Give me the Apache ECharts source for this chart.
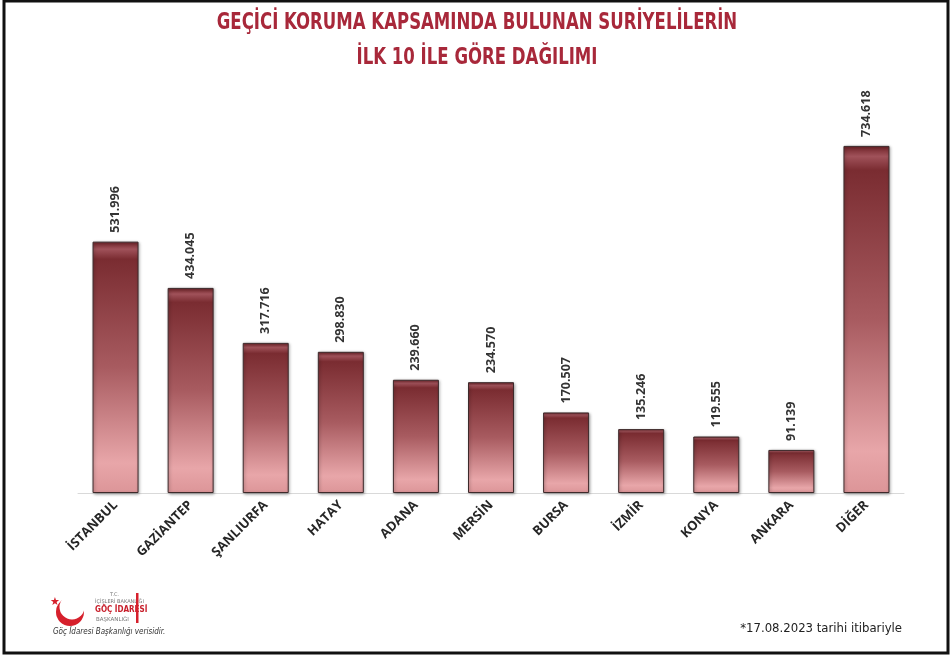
<!DOCTYPE html>
<html><head><meta charset="utf-8">
<script src="https://cdn.jsdelivr.net/npm/echarts@6/dist/echarts.min.js"></script>
<style>html,body{margin:0;padding:0;background:#fff}#c{width:952px;height:656px}</style>
</head><body><div id="c"></div>
<script>
const titleLines = ['GEÇİCİ KORUMA KAPSAMINDA BULUNAN SURİYELİLERİN', 'İLK 10 İLE GÖRE DAĞILIMI'];
const categories = ['İSTANBUL','GAZİANTEP','ŞANLIURFA','HATAY','ADANA','MERSİN','BURSA','İZMİR','KONYA','ANKARA','DİĞER'];
const values = [531996, 434045, 317716, 298830, 239660, 234570, 170507, 135246, 119555, 91139, 734618];
const footnote = '*17.08.2023 tarihi itibariyle';
const sourceNote = 'Göç İdaresi Başkanlığı verisidir.';

function fmt(v){ return String(v).replace(/\B(?=(\d{3})+(?!\d))/g, '.'); }

const titleStyle = { fontFamily: 'DejaVu Sans Condensed', fontWeight: 'bold', fontSize: 23, fill: '#a8283a', align: 'center', verticalAlign: 'middle' };

const chart = echarts.init(document.getElementById('c'));
chart.setOption({
  animation: false,
  backgroundColor: '#fff',
  grid: { left: 78, right: 48, top: 115, bottom: 163 },
  xAxis: {
    type: 'category', data: categories,
    axisLine: { lineStyle: { color: '#d9d9d9', width: 1 } },
    axisTick: { show: false },
    axisLabel: { rotate: 45, interval: 0, margin: 10, fontFamily: 'Open Sans', fontWeight: 'bold', fontSize: 13, color: '#262626' }
  },
  yAxis: { type: 'value', min: 0, max: 800000, show: false, splitLine: { show: false } },
  series: [{
    type: 'bar', data: values, barWidth: 46,
    itemStyle: {
      color: new echarts.graphic.LinearGradient(0, 0, 0, 1, [
        { offset: 0, color: '#6e2126' },
        { offset: 0.03, color: '#a0525a' },
        { offset: 0.07, color: '#7a2c31' },
        { offset: 0.5, color: '#a85b60' },
        { offset: 0.88, color: '#e8a6a9' },
        { offset: 1, color: '#dc9598' }
      ]),
      borderColor: '#3d2a2b', borderWidth: 1,
      shadowColor: 'rgba(0,0,0,0.35)', shadowBlur: 3, shadowOffsetX: 1, shadowOffsetY: 1
    },
    label: {
      show: true, position: 'top', rotate: 90, align: 'left', verticalAlign: 'middle', distance: 9,
      fontFamily: 'Open Sans', fontWeight: 'bold', fontSize: 12.5, color: '#333',
      formatter: p => fmt(p.value)
    }
  }],
  graphic: [
    { type: 'rect', shape: { x: 4, y: 1, width: 944, height: 652 }, style: { fill: 'none', stroke: '#111', lineWidth: 3 }, z: 100 },
    { type: 'text', x: 477, y: 23, scaleX: 0.8, style: Object.assign({ text: titleLines[0] }, titleStyle) },
    { type: 'text', x: 477, y: 58, scaleX: 0.8, style: Object.assign({ text: titleLines[1] }, titleStyle) },
    // logo crescent
    { type: 'circle', shape: { cx: 70, cy: 612, r: 14 }, style: { fill: '#d6202c' } },
    { type: 'circle', shape: { cx: 72, cy: 607, r: 12.5 }, style: { fill: '#fff' } },
    { type: 'text', left: 50, top: 596, style: { text: '★', fontSize: 11, fill: '#d6202c' } },
    { type: 'text', left: 110, top: 592, style: { text: 'T.C.', fontSize: 5, fill: '#777', fontFamily: 'DejaVu Sans' } },
    { type: 'text', left: 95, top: 599, style: { text: 'İÇİŞLERİ BAKANLIĞI', fontSize: 5, fill: '#777', fontFamily: 'DejaVu Sans' } },
    { type: 'text', left: 95, top: 606, style: { text: 'GÖÇ İDARESİ', fontSize: 8, fontWeight: 'bold', fill: '#c8202c', fontFamily: 'DejaVu Sans Condensed' } },
    { type: 'text', left: 96, top: 617, style: { text: 'BAŞKANLIĞI', fontSize: 5.5, fill: '#777', fontFamily: 'DejaVu Sans' } },
    { type: 'rect', shape: { x: 136, y: 593, width: 2.5, height: 30 }, style: { fill: '#d6202c' } },
    { type: 'text', left: 53, top: 628, style: { text: sourceNote, fontSize: 8, fontStyle: 'italic', fill: '#333', fontFamily: 'DejaVu Sans Condensed' } },
    { type: 'text', right: 50, top: 622, style: { text: footnote, fontSize: 13, fill: '#222', fontFamily: 'DejaVu Sans Condensed' } }
  ]
});
</script></body></html>
